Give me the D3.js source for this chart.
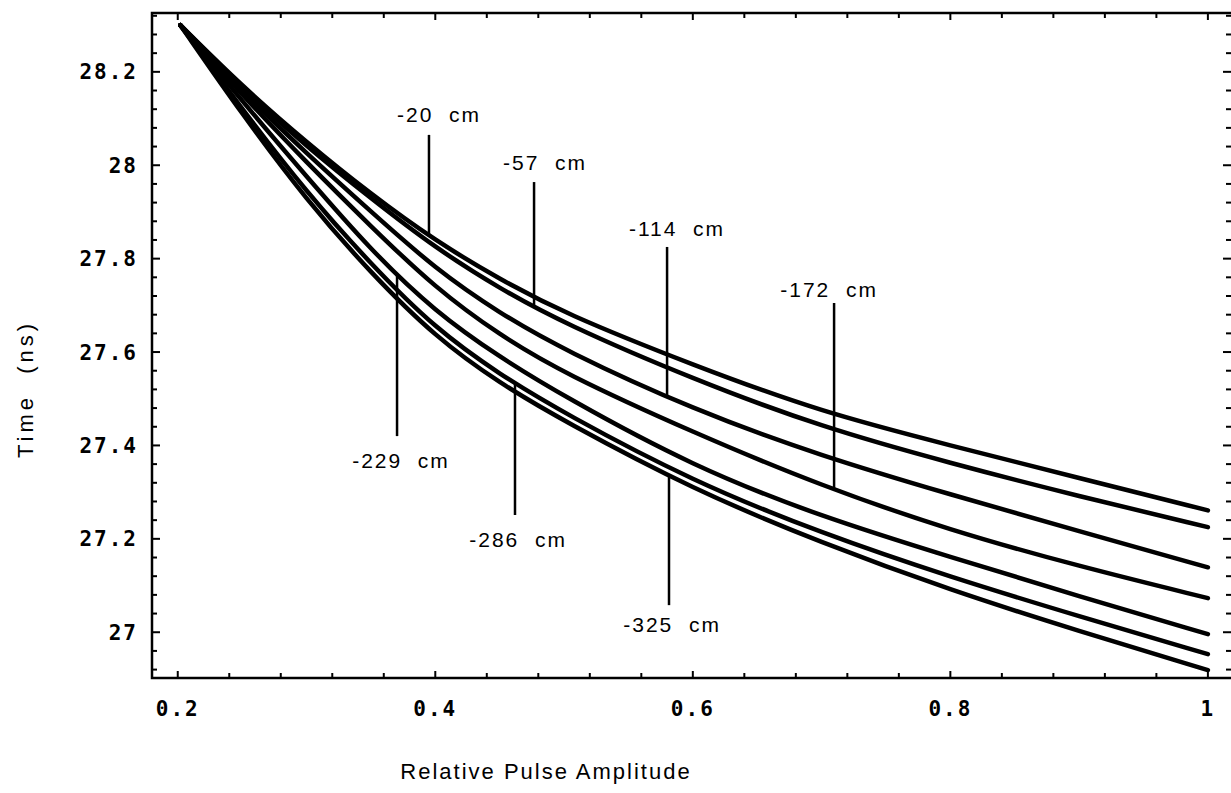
<!DOCTYPE html>
<html>
<head>
<meta charset="utf-8">
<script src="https://cdn.jsdelivr.net/npm/d3@7"></script>
<style>
  html, body { margin: 0; padding: 0; background: #fff; }
  svg { display: block; }
  text { fill: #000; }
</style>
</head>
<body>
<svg id="chart" width="1231" height="793"></svg>
<script>
// Relative pulse amplitude at which each timing curve is sampled
const amplitude = [0.202, 0.25, 0.3, 0.35, 0.4, 0.45, 0.5, 0.6, 0.7, 0.8, 0.9, 1.0];

// Timing (ns) versus amplitude for each source position along the counter
const positions = ["-20  cm", "-57  cm", "-114  cm", "-172  cm", "-229  cm", "-286  cm", "-325  cm"];
const time20  = [28.30, 28.169, 28.049, 27.938, 27.838, 27.756, 27.683, 27.572, 27.471, 27.400, 27.330, 27.261];
const time57  = [28.30, 28.165, 28.040, 27.929, 27.823, 27.736, 27.661, 27.542, 27.439, 27.362, 27.291, 27.225];
const time114 = [28.30, 28.158, 28.025, 27.901, 27.778, 27.683, 27.604, 27.477, 27.377, 27.295, 27.216, 27.139];
const time172 = [28.30, 28.150, 28.006, 27.869, 27.737, 27.636, 27.554, 27.428, 27.313, 27.218, 27.141, 27.073];
const time229 = [28.30, 28.137, 27.976, 27.818, 27.686, 27.589, 27.505, 27.355, 27.247, 27.161, 27.077, 26.996];
const time286 = [28.30, 28.120, 27.942, 27.788, 27.650, 27.552, 27.469, 27.323, 27.212, 27.118, 27.034, 26.953];
const time325 = [28.30, 28.109, 27.925, 27.769, 27.632, 27.533, 27.452, 27.306, 27.191, 27.090, 27.002, 26.919];
const series = [time20, time57, time114, time172, time229, time286, time325];

// Callout annotations (data units): pointer x, free end of pointer, label centre and baseline
const pointerX   = [0.3951, 0.4767, 0.5800, 0.7097, 0.3703, 0.4619, 0.5815];
const pointerEnd = [28.065, 27.964, 27.825, 27.705, 27.420, 27.251, 27.058];
const labelX     = [0.4029, 0.4852, 0.5877, 0.7058, 0.3734, 0.4643, 0.5839];
const labelY     = [28.093, 27.990, 27.849, 27.718, 27.352, 27.183, 27.001];

// Axis ticks
const xTicks = [0.2, 0.4, 0.6, 0.8, 1.0];
const xTickLabels = ["0.2", "0.4", "0.6", "0.8", "1"];
const yTicks = [27.0, 27.2, 27.4, 27.6, 27.8, 28.0, 28.2];
const yTickLabels = ["27", "27.2", "27.4", "27.6", "27.8", "28", "28.2"];

const svg = d3.select("#chart");
const plotLeft = 152, plotRight = 1233, plotTop = 13, plotBottom = 678;

const x = d3.scaleLinear().domain([0.18, 1.0195]).range([plotLeft, plotRight]);
const y = d3.scaleLinear().domain([26.902, 28.326]).range([plotBottom, plotTop]);

// Minor tick positions every 0.04 units
const xMinor = d3.range(0.2, 1.0001, 0.04).filter(v => x(v) > plotLeft + 2 && x(v) < plotRight - 2);
const yMinor = d3.range(26.92, 28.33, 0.04).filter(v => y(v) < plotBottom - 2 && y(v) > plotTop + 2);
const isMajor = (v, list) => list.some(t => Math.abs(t - v) < 1e-6);

const frame = svg.append("g").attr("stroke", "#000").attr("stroke-width", 2.5).attr("fill", "none");
frame.append("rect")
  .attr("x", plotLeft).attr("y", plotTop)
  .attr("width", plotRight - plotLeft).attr("height", plotBottom - plotTop);

const ticks = svg.append("g").attr("stroke", "#000").attr("stroke-width", 2);
// bottom and top ticks point inward
xMinor.forEach(v => {
  const len = isMajor(v, xTicks) ? 7 : 5;
  ticks.append("line").attr("x1", x(v)).attr("x2", x(v)).attr("y1", plotBottom).attr("y2", plotBottom - len);
  ticks.append("line").attr("x1", x(v)).attr("x2", x(v)).attr("y1", plotTop).attr("y2", plotTop + len);
});
// left and right ticks point inward
yMinor.forEach(v => {
  const len = isMajor(v, yTicks) ? 8 : 5;
  ticks.append("line").attr("y1", y(v)).attr("y2", y(v)).attr("x1", plotLeft).attr("x2", plotLeft + len);
  ticks.append("line").attr("y1", y(v)).attr("y2", y(v)).attr("x1", plotRight).attr("x2", plotRight - len - 2);
});

const tickFont = "'DejaVu Sans Mono', 'Liberation Mono', monospace";
svg.append("g").selectAll("text").data(xTicks).join("text")
  .attr("x", d => x(d)).attr("y", 716)
  .attr("text-anchor", "middle")
  .style("font-family", tickFont).style("font-weight", "bold")
  .style("font-size", "21px").style("letter-spacing", "2px")
  .text((d, i) => xTickLabels[i]);

svg.append("g").selectAll("text").data(yTicks).join("text")
  .attr("x", 138).attr("y", d => y(d)).attr("dy", "0.36em")
  .attr("text-anchor", "end")
  .style("font-family", tickFont).style("font-weight", "bold")
  .style("font-size", "21px").style("letter-spacing", "2px")
  .text((d, i) => yTickLabels[i]);

const labelFont = "'Liberation Sans', Arial, sans-serif";
svg.append("text")
  .attr("x", 546).attr("y", 779).attr("text-anchor", "middle")
  .style("font-family", labelFont).style("font-size", "22px").style("letter-spacing", "2px")
  .text("Relative Pulse Amplitude");

svg.append("text")
  .attr("transform", "translate(33,389) rotate(-90)")
  .attr("text-anchor", "middle")
  .style("font-family", labelFont).style("font-size", "22px").style("letter-spacing", "4px")
  .style("white-space", "pre")
  .text("Time  (ns)");

// Timing curves, drawn as smooth splines through the sampled readings
const line = d3.line()
  .x((d, i) => x(amplitude[i]))
  .y(d => y(d))
  .curve(d3.curveBasis);

const paths = svg.append("g").selectAll("path").data(series).join("path")
  .attr("d", line)
  .attr("fill", "none")
  .attr("stroke", "#000")
  .attr("stroke-width", 4.5)
  .attr("stroke-linejoin", "round")
  .attr("stroke-linecap", "round")
  .nodes();

// Find where a curve crosses a given screen x
function curveYAt(pathNode, px) {
  let lo = 0, hi = pathNode.getTotalLength();
  for (let k = 0; k < 40; k++) {
    const mid = (lo + hi) / 2;
    if (pathNode.getPointAtLength(mid).x < px) lo = mid; else hi = mid;
  }
  return pathNode.getPointAtLength((lo + hi) / 2).y;
}

// Callouts: each pointer runs from near its label to the curve it names
const callouts = svg.append("g");
positions.forEach((name, i) => {
  const px = x(pointerX[i]);
  const tip = curveYAt(paths[i], px);
  callouts.append("line")
    .attr("x1", px).attr("x2", px)
    .attr("y1", y(pointerEnd[i])).attr("y2", tip)
    .attr("stroke", "#000").attr("stroke-width", 2.5);
  callouts.append("text")
    .attr("x", x(labelX[i])).attr("y", y(labelY[i]))
    .attr("text-anchor", "middle")
    .style("font-family", labelFont).style("font-size", "21px").style("letter-spacing", "2px")
    .style("white-space", "pre")
    .text(name);
});
</script>
</body>
</html>
